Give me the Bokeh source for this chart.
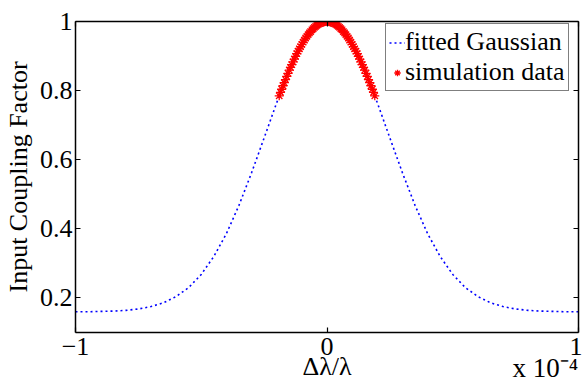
from bokeh.plotting import figure
from bokeh.models import (LinearAxis, FixedTicker, Range1d, Legend, LegendItem,
                          CustomJSTickFormatter)
from bokeh.embed import file_html
from bokeh.resources import INLINE

# x values are in units of 1e-4 (axis multiplier "x 10^-4")
x_fit = [-1.00, -0.95, -0.90, -0.85, -0.80, -0.75, -0.70, -0.65, -0.60, -0.55,
         -0.50, -0.45, -0.40, -0.35, -0.30, -0.25, -0.20, -0.15, -0.10, -0.05,
         0.00, 0.05, 0.10, 0.15, 0.20, 0.25, 0.30, 0.35, 0.40, 0.45,
         0.50, 0.55, 0.60, 0.65, 0.70, 0.75, 0.80, 0.85, 0.90, 0.95, 1.00]
y_fit = [0.160, 0.160, 0.161, 0.162, 0.164, 0.168, 0.175, 0.186, 0.204, 0.230,
         0.268, 0.320, 0.386, 0.468, 0.562, 0.663, 0.765, 0.859, 0.934, 0.983,
         1.000, 0.983, 0.934, 0.859, 0.765, 0.663, 0.562, 0.468, 0.386, 0.320,
         0.268, 0.230, 0.204, 0.186, 0.175, 0.168, 0.164, 0.162, 0.161, 0.160, 0.160]

x_sim = [-0.190, -0.185, -0.180, -0.175, -0.170, -0.165, -0.160, -0.155, -0.150, -0.145,
         -0.140, -0.135, -0.130, -0.125, -0.120, -0.115, -0.110, -0.105, -0.100, -0.095,
         -0.090, -0.085, -0.080, -0.075, -0.070, -0.065, -0.060, -0.055, -0.050, -0.045,
         -0.040, -0.035, -0.030, -0.025, -0.020, -0.015, -0.010, -0.005, 0.000,
         0.005, 0.010, 0.015, 0.020, 0.025, 0.030, 0.035, 0.040, 0.045, 0.050,
         0.055, 0.060, 0.065, 0.070, 0.075, 0.080, 0.085, 0.090, 0.095, 0.100,
         0.105, 0.110, 0.115, 0.120, 0.125, 0.130, 0.135, 0.140, 0.145, 0.150,
         0.155, 0.160, 0.165, 0.170, 0.175, 0.180, 0.185, 0.190]
y_sim = [0.785, 0.795, 0.804, 0.814, 0.823, 0.832, 0.841, 0.850, 0.859, 0.867,
         0.875, 0.883, 0.891, 0.899, 0.907, 0.914, 0.921, 0.927, 0.934, 0.940,
         0.946, 0.952, 0.957, 0.962, 0.967, 0.971, 0.976, 0.979, 0.983, 0.986,
         0.989, 0.992, 0.994, 0.996, 0.997, 0.998, 0.999, 1.000, 1.000,
         1.000, 0.999, 0.998, 0.997, 0.996, 0.994, 0.992, 0.989, 0.986, 0.983,
         0.979, 0.976, 0.971, 0.967, 0.962, 0.957, 0.952, 0.946, 0.940, 0.934,
         0.927, 0.921, 0.914, 0.907, 0.899, 0.891, 0.883, 0.875, 0.867, 0.859,
         0.850, 0.841, 0.832, 0.823, 0.814, 0.804, 0.795, 0.785]

x_ticks = [-1, 0, 1]
y_ticks = [0.2, 0.4, 0.6, 0.8, 1.0]
x_tick_labels = {-1: "\u22121", 0: "0", 1: "1"}
y_tick_labels = {0.2: "0.2", 0.4: "0.4", 0.6: "0.6", 0.8: "0.8", 1: "1"}
multiplier_text = "x 10\u207b\u2074"
multiplier_pos = [0.868]

FONT = "Liberation Serif"
FS = "26px"

p = figure(width=582, height=390, x_range=Range1d(-1, 1), y_range=Range1d(0.1, 1),
           output_backend="svg", toolbar_location=None,
           min_border_left=72, min_border_right=4, min_border_top=21, min_border_bottom=58)
p.grid.visible = False
p.outline_line_color = None
p.background_fill_color = "white"
p.border_fill_color = "white"

r_fit = p.line(x_fit, y_fit, line_color="#0000ff", line_width=1.6, line_dash="2 3")
r_sim = p.scatter(x_sim, y_sim, marker="asterisk", size=9, line_color="#ff0000", line_width=1.3)


def style(ax, ticks, show_labels, overrides=None):
    ax.ticker = FixedTicker(ticks=ticks)
    ax.major_tick_in = 5
    ax.major_tick_out = 0
    ax.minor_tick_line_color = None
    ax.axis_line_color = "black"
    ax.axis_line_width = 1.5
    ax.major_tick_line_color = "black"
    ax.major_tick_line_width = 1.2
    ax.major_label_text_font = FONT
    ax.major_label_text_font_size = FS
    ax.major_label_text_color = "black"
    ax.axis_label_text_font = FONT
    ax.axis_label_text_font_size = FS
    ax.axis_label_text_font_style = "normal"
    ax.axis_label_text_color = "black"
    if show_labels:
        ax.major_label_overrides = overrides
    else:
        ax.formatter = CustomJSTickFormatter(code="return ''")
        ax.major_label_standoff = 0


xb = p.xaxis[0]
yl = p.yaxis[0]
style(xb, x_ticks, True, x_tick_labels)
style(yl, y_ticks, True, y_tick_labels)
xb.axis_label = "\u0394\u03bb/\u03bb"
yl.axis_label = "Input Coupling Factor"
xb.major_label_standoff = 5
xb.axis_label_standoff = -6
yl.major_label_standoff = 3
yl.axis_label_standoff = 4

xa = LinearAxis()
style(xa, x_ticks, False)
p.add_layout(xa, "above")
yr = LinearAxis()
style(yr, y_ticks, False)
p.add_layout(yr, "right")

# multiplier text under the right end of the x axis
xm = LinearAxis(ticker=FixedTicker(ticks=multiplier_pos))
xm.major_label_overrides = {multiplier_pos[0]: multiplier_text}
xm.axis_line_color = None
xm.major_tick_line_color = None
xm.minor_tick_line_color = None
xm.major_tick_in = 0
xm.major_tick_out = 0
xm.major_label_text_font = FONT
xm.major_label_text_font_size = "27px"
xm.major_label_text_color = "black"
xm.major_label_standoff = -31
p.add_layout(xm, "below")

legend = Legend(items=[LegendItem(label="fitted Gaussian", renderers=[r_fit]),
                       LegendItem(label="simulation data", renderers=[r_sim])],
                location=(310, 241))
legend.border_line_color = "black"
legend.border_line_width = 1.5
legend.background_fill_color = "white"
legend.background_fill_alpha = 1
legend.label_text_font = FONT
legend.label_text_font_size = FS
legend.label_text_color = "black"
legend.glyph_width = 16
legend.glyph_height = 29
legend.label_height = 29
legend.label_standoff = 0
legend.padding = 3
legend.spacing = 0
legend.margin = 0
p.add_layout(legend)

open("out.html", "w").write(file_html(p, INLINE))
